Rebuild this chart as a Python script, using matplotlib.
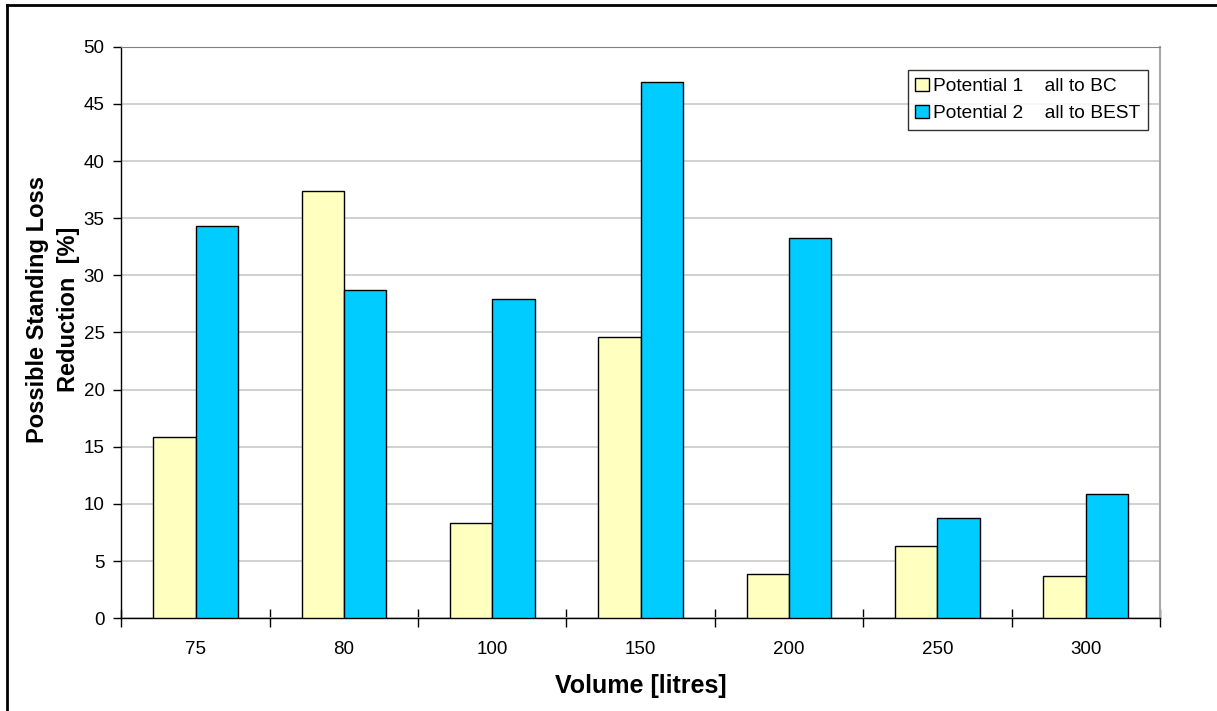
import matplotlib
matplotlib.use("Agg")
import matplotlib.pyplot as plt
from matplotlib.lines import Line2D
import numpy as np

plt.rcParams['font.family'] = ['Liberation Sans', 'DejaVu Sans']

volumes = ["75", "80", "100", "150", "200", "250", "300"]
potential1 = [15.9, 37.4, 8.3, 24.6, 3.9, 6.3, 3.7]
potential2 = [34.35, 28.75, 27.9, 46.9, 33.25, 8.8, 10.9]
labels = ["Potential 1    all to BC", "Potential 2    all to BEST"]

fig = plt.figure(figsize=(12.17, 7.11), dpi=100)
ax = fig.add_axes([0.0997, 0.1304, 0.9532 - 0.0997, 0.9343 - 0.1304])

x = np.arange(len(volumes))
w = 1 / 3.5  # excel gap width 150%
ax.bar(x - w / 2, potential1, w, color="#FFFFC0", edgecolor="black", linewidth=1, label=labels[0], zorder=3)
ax.bar(x + w / 2, potential2, w, color="#00CCFF", edgecolor="black", linewidth=1, label=labels[1], zorder=3)

ax.set_xlim(-0.5, len(volumes) - 0.5)
ax.set_ylim(0, 50)
ax.set_yticks(np.arange(0, 51, 5))
ax.yaxis.grid(True, color="#C8C8C8", linewidth=1.2, zorder=0)

ax.set_xticks(x)
ax.set_xticklabels(volumes)
ax.set_xticks(np.arange(-0.5, len(volumes), 1), minor=True)
ax.tick_params(axis="x", which="major", length=0, pad=16, labelsize=13.5)
ax.tick_params(axis="x", which="minor", direction="inout", length=13, width=1)
ax.tick_params(axis="y", direction="out", length=6, width=1, pad=6, labelsize=13.5)

ax.spines["top"].set_color("#808080")
ax.spines["right"].set_color("#A8A8A8")
ax.spines["right"].set_linewidth(1.5)
ax.spines["left"].set_linewidth(1)
ax.spines["bottom"].set_linewidth(1)

ax.set_xlabel("Volume [litres]", fontsize=18, fontweight="bold", labelpad=12)
fig.text(0.0435, 0.565, "Possible Standing Loss\nReduction  [%]", rotation=90,
         fontsize=17, fontweight="bold", ha="center", va="center",
         multialignment="center", linespacing=1.45)

leg = ax.legend(loc="upper right", bbox_to_anchor=(0.9887, 0.9592), fontsize=13.8,
                frameon=True, fancybox=False, handlelength=0.7, handleheight=0.7,
                handletextpad=0.25, borderpad=0.4, labelspacing=0.5, borderaxespad=0)
leg.get_frame().set_edgecolor("black")
leg.get_frame().set_linewidth(1)

# outer chart frame (top and left edges)
fig.add_artist(Line2D([0.0057, 1.0], [0.993, 0.993], color="black", linewidth=2, transform=fig.transFigure))
fig.add_artist(Line2D([0.0057, 0.0057], [0.0, 0.993], color="black", linewidth=2, transform=fig.transFigure))

fig.savefig("out.png", dpi=100)
